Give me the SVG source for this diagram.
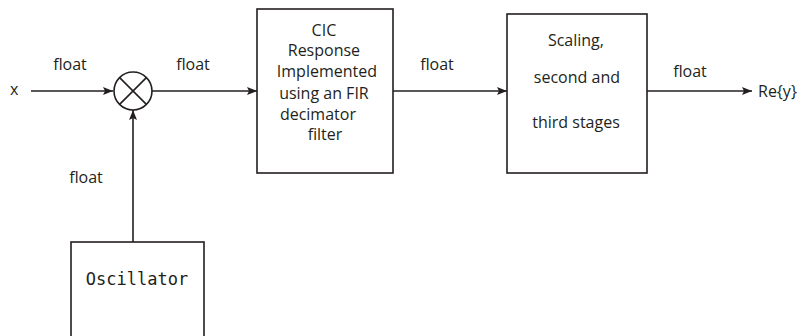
<svg xmlns="http://www.w3.org/2000/svg" width="799" height="336" viewBox="0 0 799 336">
<style>
.t{font-family:"Open Sans","Liberation Sans",sans-serif;font-size:16px;fill:#231f20}
.m{font-family:"DejaVu Sans Mono","Liberation Mono",monospace;font-size:17px;fill:#231f20}
.b{fill:#fff;stroke:#231f20;stroke-width:1.6}
.c{stroke:#231f20;stroke-width:1.6;fill:none}
</style>
<defs>
<marker id="a" viewBox="0 0 10 8" refX="10" refY="4" markerWidth="10" markerHeight="8" markerUnits="userSpaceOnUse" orient="auto">
<path d="M0,0 L10,4 L0,8 L2,4 Z" fill="#231f20"/>
</marker>
</defs>
<g id="connectors">
<line class="c" x1="31" y1="91" x2="113" y2="91" marker-end="url(#a)"/>
<line class="c" x1="152" y1="91" x2="257" y2="91" marker-end="url(#a)"/>
<line class="c" x1="393" y1="91" x2="507" y2="91" marker-end="url(#a)"/>
<line class="c" x1="647" y1="91" x2="752" y2="91" marker-end="url(#a)"/>
<line class="c" x1="133" y1="242" x2="133" y2="110" marker-end="url(#a)"/>
<text class="t" x="70" y="70" text-anchor="middle">float</text>
<text class="t" x="193" y="70" text-anchor="middle">float</text>
<text class="t" x="437" y="70" text-anchor="middle">float</text>
<text class="t" x="690" y="77" text-anchor="middle">float</text>
<text class="t" x="86" y="183" text-anchor="middle">float</text>
</g>
<g id="x"><text class="t" x="10" y="95">x</text></g>
<g id="mult">
<circle class="b" cx="133" cy="91" r="19"/>
<line class="c" x1="119.6" y1="77.6" x2="146.4" y2="104.4"/>
<line class="c" x1="146.4" y1="77.6" x2="119.6" y2="104.4"/>
</g>
<g id="cic">
<rect class="b" x="257" y="9" width="136" height="164"/>
<text class="t" text-anchor="middle">
<tspan x="326" y="36">CIC</tspan>
<tspan x="326" y="56">Response</tspan>
<tspan x="329" y="77">Implemented</tspan>
<tspan x="326" y="99">using an FIR</tspan>
<tspan x="320" y="120">decimator</tspan>
<tspan x="325" y="140">filter</tspan>
</text>
</g>
<g id="scaling">
<rect class="b" x="507" y="14" width="140" height="159"/>
<text class="t" text-anchor="middle">
<tspan x="578" y="46">Scaling,</tspan>
<tspan x="579" y="83">second and</tspan>
<tspan x="576" y="128">third stages</tspan>
</text>
</g>
<g id="rey"><text class="t" x="758" y="97">Re{y}</text></g>
<g id="osc">
<rect class="b" x="71" y="242" width="133" height="100"/>
<text class="m" x="137" y="285" text-anchor="middle">Oscillator</text>
</g>
</svg>
